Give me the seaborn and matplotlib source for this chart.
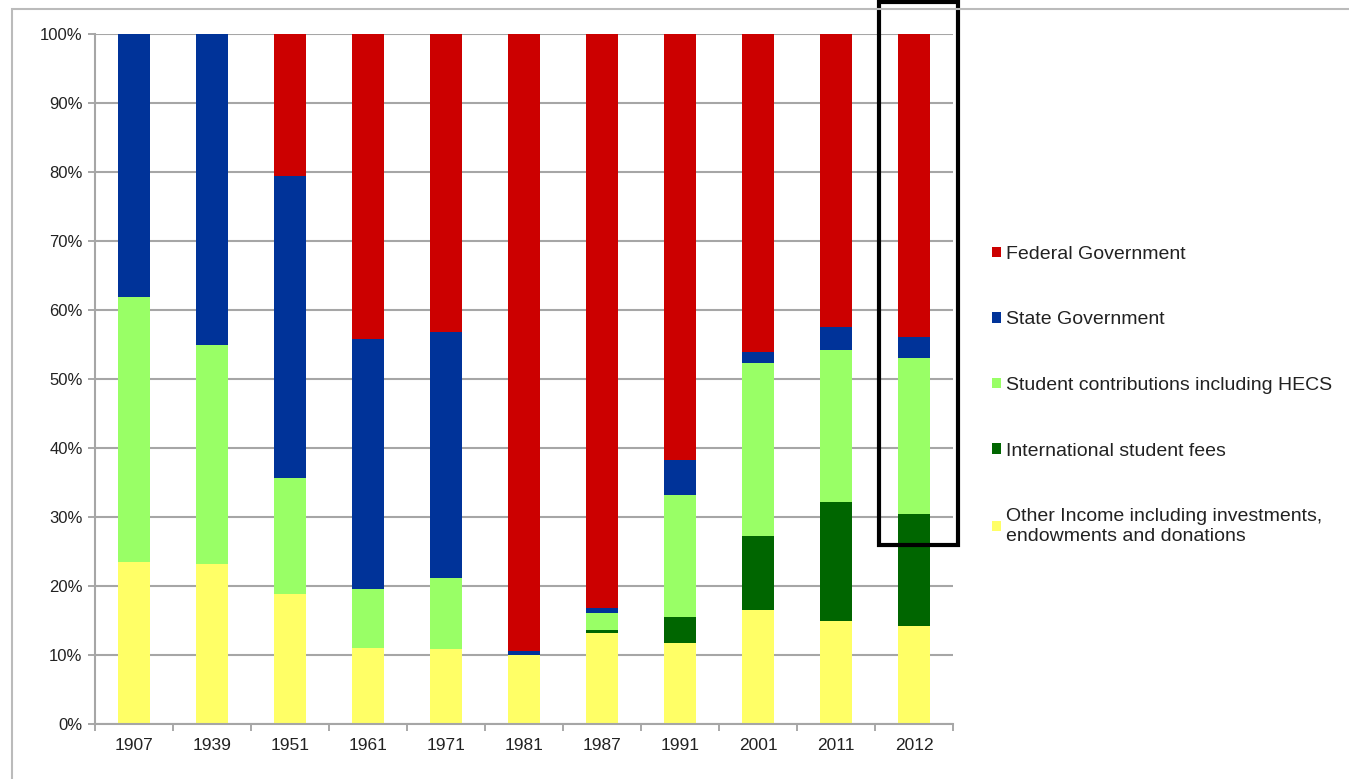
import matplotlib
matplotlib.use("Agg")
import matplotlib.pyplot as plt
from matplotlib.patches import Rectangle
import numpy as np
import pandas as pd
import seaborn as sns

# Years on the x axis
years = ["1907", "1939", "1951", "1961", "1971", "1981", "1987", "1991", "2001", "2011", "2012"]

# Share of university revenue by source (%)
other_income = [23.5, 23.2, 18.8, 11.0, 10.9, 10.0, 13.2, 11.7, 16.5, 14.9, 14.2]
international_fees = [0.0, 0.0, 0.0, 0.0, 0.0, 0.0, 0.4, 3.8, 10.7, 17.3, 16.2]
student_contrib = [38.4, 31.7, 16.8, 8.6, 10.3, 0.0, 2.5, 17.7, 25.1, 22.0, 22.6]
state_gov = [38.1, 45.1, 43.8, 36.2, 35.6, 0.6, 0.7, 5.1, 1.6, 3.3, 3.1]
federal_gov = [0.0, 0.0, 20.6, 44.2, 43.2, 89.4, 83.2, 61.7, 46.1, 42.5, 43.9]

series_labels = [
    "Federal Government",
    "State Government",
    "Student contributions including HECS",
    "International student fees",
    "Other Income including investments,\nendowments and donations",
]
series_colors = ["#CC0000", "#003399", "#99FF66", "#006600", "#FFFF66"]

sns.set_style("white")
plt.rcParams["font.family"] = ["Liberation Sans", "DejaVu Sans"]

fig = plt.figure(figsize=(13.49, 7.79), dpi=100)
ax = fig.add_axes([95 / 1349, 55 / 779, 858 / 1349, 690 / 779])

# Stack from the bottom: other, international, student, state, federal
layers = [other_income, international_fees, student_contrib, state_gov, federal_gov]
cum = np.cumsum(np.array(layers), axis=0)
df = pd.DataFrame({"year": years})

# Draw cumulative totals from the top layer down so each segment shows
for i in range(len(layers) - 1, -1, -1):
    df["value"] = cum[i]
    label = series_labels[len(layers) - 1 - i]
    sns.barplot(data=df, x="year", y="value", color=series_colors[len(layers) - 1 - i],
                width=0.4, saturation=1, ax=ax, label=label, linewidth=0, zorder=2)
if ax.get_legend() is not None:
    ax.get_legend().remove()

ax.set_ylim(0, 100)
ax.set_xlim(-0.5, len(years) - 0.5)
ax.set_xlabel("")
ax.set_ylabel("")
ax.set_yticks(np.arange(0, 101, 10))
ax.set_yticklabels([f"{v}%" for v in range(0, 101, 10)], fontsize=12, color="#222222")
ax.tick_params(axis="y", length=5, width=1.2, color="#999999", pad=4, left=True)
ax.tick_params(axis="x", length=0, labelsize=12.5, labelcolor="#222222", pad=10)
ax.set_xticks(np.arange(-0.5, len(years), 1), minor=True)
ax.tick_params(axis="x", which="minor", length=5, width=1.2, color="#999999", bottom=True)
ax.yaxis.grid(True, color="#A6A6A6", linewidth=1.5, zorder=0)
ax.set_axisbelow(True)
for side in ["top", "right"]:
    ax.spines[side].set_visible(False)
for side in ["left", "bottom"]:
    ax.spines[side].set_color("#A6A6A6")
    ax.spines[side].set_linewidth(1.5)

# Highlight box around the latest year
ax.add_patch(Rectangle((9.55, 25.9), 1.01, 78.7, fill=False, edgecolor="black",
                       linewidth=3, clip_on=False, zorder=5))

# Outer chart frame
fig.add_artist(Rectangle((12 / 1349, -0.01), 1.0, 0.9884 + 0.01, transform=fig.transFigure,
                         fill=False, edgecolor="#BBBBBB", linewidth=1.5))

handles, labels = ax.get_legend_handles_labels()
leg = fig.legend(handles, labels, loc="upper left", bbox_to_anchor=(984 / 1349, 1 - 238 / 779),
                 frameon=False, fontsize=14, handlelength=0.45, handleheight=0.45,
                 handletextpad=0.3, labelspacing=2.5, borderaxespad=0)
for t in leg.get_texts():
    t.set_color("#222222")

fig.savefig("out.png", dpi=100)
